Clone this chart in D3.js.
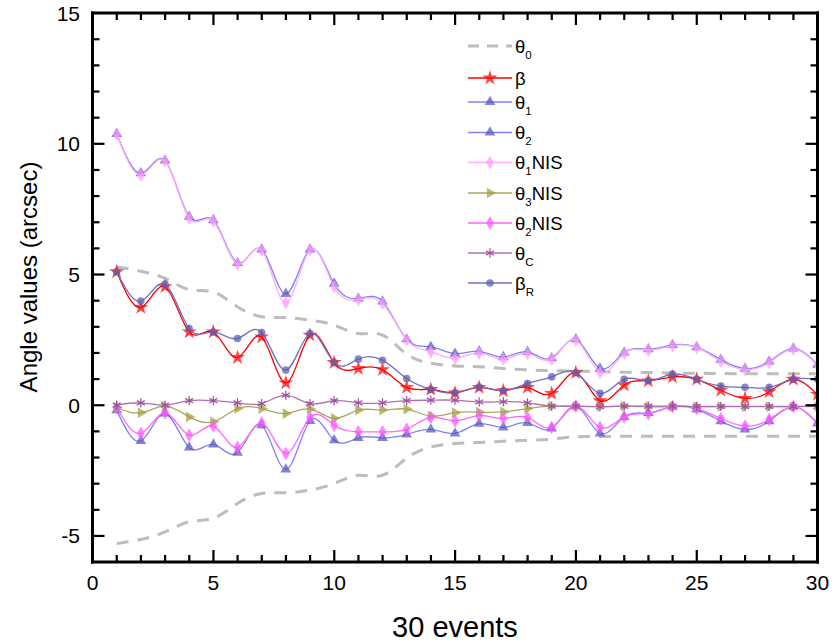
<!DOCTYPE html>
<html lang="en">
<head>
  <meta charset="UTF-8">
  <title>Angle values</title>
  <script src="https://d3js.org/d3.v7.min.js"></script>
  <style>
    body { margin: 0; background: white; }
    svg { font-family: "Liberation Sans", Arial, sans-serif; }
  </style>
</head>
<body>
  <script>
    const events = [1, 2, 3, 4, 5, 6, 7, 8, 9, 10, 11, 12, 13, 14, 15,
                    16, 17, 18, 19, 20, 21, 22, 23, 24, 25, 26, 27, 28, 29, 30];

    const theta0Upper = [5.29, 5.12, 4.85, 4.42, 4.33, 3.76, 3.38, 3.35, 3.25, 3.06, 2.74, 2.68, 1.95, 1.6, 1.5,
                         1.47, 1.4, 1.35, 1.32, 1.3, 1.28, 1.26, 1.25, 1.23, 1.22, 1.21, 1.2, 1.2, 1.2, 1.2];
    const theta0Lower = [-5.29, -5.14, -4.85, -4.46, -4.33, -3.76, -3.38, -3.35, -3.25, -3.0, -2.68, -2.68, -2.03, -1.6, -1.47,
                         -1.43, -1.38, -1.34, -1.3, -1.21, -1.2, -1.19, -1.19, -1.19, -1.19, -1.19, -1.19, -1.19, -1.19, -1.19];
    const beta = [5.1, 3.74, 4.53, 2.8, 2.8, 1.82, 2.61, 0.85, 2.68, 1.63, 1.4, 1.36, 0.68, 0.6, 0.47,
                  0.68, 0.55, 0.68, 0.45, 1.24, 0.17, 0.77, 0.93, 1.08, 0.99, 0.57, 0.26, 0.51, 0.99, 0.41];
    const theta1 = [10.38, 8.87, 9.36, 7.21, 7.08, 5.44, 5.96, 4.26, 5.96, 4.65, 4.08, 3.97, 2.52, 2.23, 1.97,
                    2.06, 1.84, 2.04, 1.8, 2.52, 1.4, 2.02, 2.14, 2.3, 2.22, 1.74, 1.4, 1.67, 2.17, 1.55];
    const theta2 = [-0.19, -1.37, -0.32, -1.62, -1.5, -1.82, -0.77, -2.46, -0.6, -1.34, -1.25, -1.25, -1.12, -0.93, -1.08,
                    -0.71, -0.85, -0.68, -0.89, -0.04, -1.08, -0.45, -0.3, -0.06, -0.16, -0.61, -0.93, -0.61, -0.06, -0.7];
    const theta1NIS = [10.36, 8.8, 9.34, 7.15, 7.04, 5.4, 5.93, 3.91, 5.94, 4.53, 4.04, 3.9, 2.5, 2.04, 1.79,
                       2.0, 1.76, 1.98, 1.76, 2.5, 1.25, 1.98, 2.1, 2.27, 2.2, 1.68, 1.36, 1.63, 2.14, 1.52];
    const theta3NIS = [-0.09, -0.29, -0.04, -0.45, -0.64, -0.13, -0.13, -0.32, -0.15, -0.51, -0.19, -0.19, -0.15, -0.42, -0.29,
                       -0.27, -0.26, -0.13, -0.04, -0.04, -0.06, -0.04, -0.06, -0.06, -0.06, -0.06, -0.06, -0.06, -0.06, -0.05];
    const theta2NIS = [-0.09, -1.08, -0.29, -1.15, -0.8, -1.62, -0.68, -1.85, -0.47, -0.77, -1.02, -1.02, -0.92, -0.47, -0.6,
                       -0.4, -0.51, -0.47, -0.85, -0.04, -0.85, -0.45, -0.32, -0.06, -0.12, -0.51, -0.8, -0.55, -0.06, -0.68];
    const thetaC = [0.0, 0.09, 0.0, 0.17, 0.17, 0.09, 0.06, 0.38, 0.06, 0.17, 0.09, 0.09, 0.17, 0.19, 0.19,
                    0.12, 0.13, 0.09, -0.04, -0.04, -0.06, -0.04, -0.04, -0.04, -0.05, -0.05, -0.05, -0.05, -0.05, -0.05];
    const betaR = [5.1, 3.98, 4.63, 2.93, 2.8, 2.55, 2.78, 1.34, 2.74, 1.63, 1.76, 1.72, 1.02, 0.6, 0.47,
                   0.69, 0.55, 0.83, 1.08, 1.24, 0.45, 0.99, 0.93, 1.19, 0.99, 0.73, 0.68, 0.68, 0.99, 0.99];

    const xMajorTicks = [0, 5, 10, 15, 20, 25, 30];
    const yMajorTicks = [-5, 0, 5, 10, 15];

    const width = 835, height = 644;
    const mLeft = 92.5, mRight = 817.5, mTop = 13, mBottom = 562;

    const svg = d3.select("body").append("svg")
      .attr("width", width)
      .attr("height", height);

    const x = d3.scaleLinear().domain([0, 30]).range([mLeft, mRight]);
    const y = d3.scaleLinear().domain([-6, 15]).range([mBottom, mTop]);

    svg.append("defs").append("clipPath").attr("id", "plot-clip")
      .append("rect")
      .attr("x", mLeft).attr("y", mTop)
      .attr("width", mRight - mLeft).attr("height", mBottom - mTop);

    // series, drawn in legend order
    const series = [
      { name: ["θ", "0", ""], values: theta0Upper, line: "#bdbdbd", width: 3, dash: "12,9", symbol: null },
      { name: null, values: theta0Lower, line: "#bdbdbd", width: 3, dash: "12,9", symbol: null },
      { name: ["β", "", ""], values: beta, line: "#ff0000", width: 1.3, symbol: d3.symbolStar, size: 70, fill: "#ff0000" },
      { name: ["θ", "1", ""], values: theta1, line: "#8080ff", width: 1.3, symbol: d3.symbolTriangle, size: 50, fill: "#5555bb" },
      { name: ["θ", "2", ""], values: theta2, line: "#8080ff", width: 1.3, symbol: d3.symbolTriangle, size: 50, fill: "#5555bb" },
      { name: ["θ", "1", "NIS"], values: theta1NIS, line: "#ffaaff", width: 1.3, symbol: d3.symbolDiamond, size: 55, fill: "#ff99ff" },
      { name: ["θ", "3", "NIS"], values: theta3NIS, line: "#a8a860", width: 1.3, symbol: d3.symbolTriangle, size: 50, fill: "#a0a040", rotate: 90 },
      { name: ["θ", "2", "NIS"], values: theta2NIS, line: "#ff66ff", width: 1.3, symbol: d3.symbolDiamond, size: 55, fill: "#ff55ff" },
      { name: ["θ", "C", ""], values: thetaC, line: "#b070b0", width: 1.3, symbol: d3.symbolAsterisk, size: 60, stroke: "#a050a0" },
      { name: ["β", "R", ""], values: betaR, line: "#7070c0", width: 1.3, symbol: d3.symbolCircle, size: 45, fill: "#5a5ab0" }
    ];

    const line = d3.line()
      .x((d, i) => x(events[i]))
      .y(d => y(d))
      .curve(d3.curveNatural);

    const plot = svg.append("g").attr("clip-path", "url(#plot-clip)");

    series.forEach(s => {
      plot.append("path")
        .attr("d", line(s.values))
        .attr("fill", "none")
        .attr("stroke", s.line)
        .attr("stroke-width", s.width)
        .attr("stroke-dasharray", s.dash || null);

      if (s.symbol) {
        plot.selectAll(null)
          .data(s.values)
          .enter()
          .append("path")
          .attr("d", d3.symbol().type(s.symbol).size(s.size))
          .attr("transform", (d, i) => `translate(${x(events[i])},${y(d)})` + (s.rotate ? ` rotate(${s.rotate})` : ""))
          .attr("fill", s.fill || "none")
          .attr("fill-opacity", 0.72)
          .attr("stroke", s.stroke || "none")
          .attr("stroke-width", 1.2);
      }
    });

    // frame drawn as four filled bars
    const frame = svg.append("g").attr("fill", "#000");
    frame.append("rect").attr("x", mLeft - 1.5).attr("y", mTop - 1.5).attr("width", mRight - mLeft + 3).attr("height", 3);
    frame.append("rect").attr("x", mLeft - 1.5).attr("y", mBottom - 1.5).attr("width", mRight - mLeft + 3).attr("height", 3);
    frame.append("rect").attr("x", mLeft - 1.5).attr("y", mTop - 1.5).attr("width", 3).attr("height", mBottom - mTop + 3);
    frame.append("rect").attr("x", mRight - 1.5).attr("y", mTop - 1.5).attr("width", 3).attr("height", mBottom - mTop + 3);

    // inward ticks on all four sides, as small filled rects
    const xTicks = d3.range(1, 30);
    const yTicks = d3.range(-5, 15);
    const tickLen = v => (Math.abs(v) % 5 === 0 ? 12 : 7);
    const tickG = svg.append("g").attr("fill", "#000");
    tickG.selectAll(null).data(xTicks).enter().append("rect")
      .attr("x", d => x(d) - 1).attr("width", 2.2)
      .attr("y", d => mBottom - tickLen(d)).attr("height", d => tickLen(d));
    tickG.selectAll(null).data(xTicks).enter().append("rect")
      .attr("x", d => x(d) - 1).attr("width", 2.2)
      .attr("y", mTop).attr("height", d => tickLen(d));
    tickG.selectAll(null).data(yTicks).enter().append("rect")
      .attr("y", d => y(d) - 1).attr("height", 2.2)
      .attr("x", mLeft).attr("width", d => tickLen(d));
    tickG.selectAll(null).data(yTicks).enter().append("rect")
      .attr("y", d => y(d) - 1).attr("height", 2.2)
      .attr("x", d => mRight - tickLen(d)).attr("width", d => tickLen(d));

    // tick labels
    svg.append("g").selectAll("text")
      .data(xMajorTicks).enter().append("text")
      .attr("x", d => x(d)).attr("y", 590)
      .attr("text-anchor", "middle")
      .attr("font-size", 21)
      .text(d => d);

    svg.append("g").selectAll("text")
      .data(yMajorTicks).enter().append("text")
      .attr("x", 80).attr("y", d => y(d))
      .attr("dy", "0.36em")
      .attr("text-anchor", "end")
      .attr("font-size", 21)
      .text(d => d);

    svg.append("text")
      .attr("x", (mLeft + mRight) / 2).attr("y", 637)
      .attr("text-anchor", "middle")
      .attr("font-size", 29)
      .text("30 events");

    svg.append("text")
      .attr("transform", "translate(37,277) rotate(-90)")
      .attr("text-anchor", "middle")
      .attr("font-size", 24)
      .text("Angle values (arcsec)");

    // legend
    const legendRows = [46, 78, 102, 132.5, 162.5, 193, 223, 253, 283];
    const legendSeries = series.filter(s => s.name);
    const legend = svg.append("g");
    legendSeries.forEach((s, i) => {
      const ly = legendRows[i];
      legend.append("line")
        .attr("x1", 468).attr("x2", 512)
        .attr("y1", ly).attr("y2", ly)
        .attr("stroke", s.line)
        .attr("stroke-width", s.symbol ? 1.3 : 3)
        .attr("stroke-dasharray", s.dash ? "11,8" : null);
      if (s.symbol) {
        legend.append("path")
          .attr("d", d3.symbol().type(s.symbol).size(s.size))
          .attr("transform", `translate(490,${ly})` + (s.rotate ? ` rotate(${s.rotate})` : ""))
          .attr("fill", s.fill || "none")
          .attr("fill-opacity", 0.72)
          .attr("stroke", s.stroke || "none")
          .attr("stroke-width", 1.2);
      }
      const t = legend.append("text")
        .attr("x", 515).attr("y", ly + 6.5)
        .attr("font-size", 18.5);
      t.append("tspan").text(s.name[0]);
      if (s.name[1]) {
        t.append("tspan").attr("font-size", 11.5).attr("dy", 6).text(s.name[1]);
      }
      if (s.name[2]) {
        t.append("tspan").attr("dy", s.name[1] ? -6 : 0).text(s.name[2]);
      }
    });
  </script>
</body>
</html>
